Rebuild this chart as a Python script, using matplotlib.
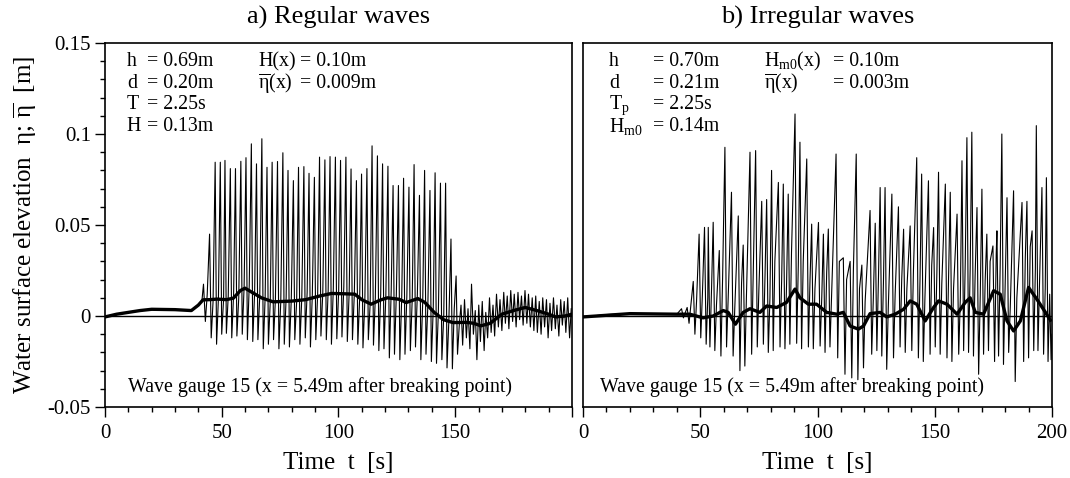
"""Water surface elevation at wave gauge 15: regular vs irregular waves."""
import numpy as np
import matplotlib
matplotlib.use("Agg")
import matplotlib.pyplot as plt
from matplotlib.ticker import MultipleLocator

plt.rcParams["font.family"] = "Liberation Serif"
plt.rcParams["mathtext.fontset"] = "custom"
plt.rcParams["mathtext.rm"] = "Liberation Serif"
plt.rcParams["mathtext.it"] = "Liberation Serif:italic"

# ---- a) regular waves: eta(t) ----
reg_pre_t = [0, 5, 10, 15, 20, 30, 37, 40, 41.5, 42.2, 43.0, 43.8, 44.8, 45.5, 46.3]
reg_pre = [-0.0005, 0.0008, 0.002, 0.003, 0.0035, 0.0035, 0.003, 0.006, 0.008,
           0.0175, -0.003, 0.012, 0.045, -0.012, 0.008]

reg_crest_t = [47.2, 49.4, 51.4, 53.7, 55.9, 58.2, 60.4, 62.7, 64.9, 67.2, 69.4, 71.6,
               73.9, 76.2, 78.4, 80.7, 82.9, 85.2, 87.4, 89.7, 91.9, 94.2, 96.4, 98.7,
               100.9, 103.2, 105.4, 107.7, 109.9, 112.2, 114.4, 116.7, 118.9, 121.2,
               123.4, 125.7, 127.9, 130.2, 132.4, 134.7, 136.9, 139.2, 141.4, 143.7,
               145.9, 148.2, 150.4]
reg_crest = [0.0845, 0.0845, 0.0855, 0.081, 0.081, 0.085, 0.087, 0.0946, 0.0836, 0.0974,
             0.0817, 0.0845, 0.0849, 0.0897, 0.080, 0.0744, 0.0817, 0.0821, 0.0784, 0.0762,
             0.0873, 0.0858, 0.0876, 0.0873, 0.0855, 0.0873, 0.0808, 0.0744, 0.078, 0.081,
             0.0935, 0.088, 0.0836, 0.0823, 0.0717, 0.0717, 0.0757, 0.0708, 0.0832, 0.0663,
             0.080, 0.069, 0.0787, 0.073, 0.073, 0.0423, 0.022]
reg_trough_t = [47.8, 50.0, 52.0, 54.3, 56.5, 58.8, 61.0, 63.3, 65.5, 67.8, 70.0, 72.2,
                74.5, 76.8, 79.0, 81.3, 83.5, 85.8, 88.0, 90.3, 92.5, 94.8, 97.0, 99.3,
                101.5, 103.8, 106.0, 108.3, 110.5, 112.8, 115.0, 117.3, 119.5, 121.8,
                124.0, 126.3, 128.5, 130.8, 133.0, 135.3, 137.5, 139.8, 142.0, 144.3,
                146.5, 148.8, 151.0]
reg_trough = [-0.0155, -0.010, -0.0095, -0.012, -0.011, -0.010, -0.013, -0.014, -0.013,
              -0.018, -0.0155, -0.013, -0.018, -0.0155, -0.017, -0.013, -0.0155, -0.012,
              -0.017, -0.013, -0.011, -0.013, -0.0155, -0.0125, -0.0115, -0.014, -0.013,
              -0.0155, -0.0175, -0.013, -0.016, -0.019, -0.018, -0.023, -0.021, -0.024,
              -0.021, -0.019, -0.017, -0.024, -0.021, -0.025, -0.026, -0.024, -0.0285,
              -0.029, -0.021]
reg_bump_t = [48.6, 50.8, 52.8, 55.1, 57.3, 59.6, 61.8, 64.1, 66.3, 68.6, 70.8, 73.0,
              75.3, 77.6, 79.8, 82.1, 84.3, 86.6, 88.8, 91.1, 93.3, 95.6, 97.8, 100.1,
              102.3, 104.6, 106.8, 109.1, 111.3, 113.6, 115.8, 118.1, 120.3, 122.6,
              124.8, 127.1, 129.3, 131.6, 133.8, 136.1, 138.3, 140.6, 142.8, 145.1,
              147.3, 149.6, 151.8]
reg_bump = [0.010, 0.009, 0.011, 0.012, 0.010, 0.016, 0.017, 0.013, 0.011, 0.010, 0.008,
            0.009, 0.008, 0.010, 0.009, 0.008, 0.010, 0.013, 0.011, 0.012, 0.013, 0.014,
            0.015, 0.014, 0.016, 0.013, 0.012, 0.010, 0.008, 0.007, 0.010, 0.012, 0.011,
            0.014, 0.012, 0.010, 0.011, 0.009, 0.012, 0.008, 0.006, 0.004, 0.002, 0.000,
            -0.002, 0.004, -0.004]
reg_post_t = [152.5, 153.2, 154.0, 154.8, 155.5, 156.3, 157.0, 157.8, 158.6, 159.3,
              160.1, 160.8, 161.6, 162.4, 163.1, 163.9, 164.7, 165.4, 166.2, 166.9,
              167.7, 168.5, 169.2, 170.0, 170.8, 171.5, 172.3, 173.0, 173.8, 174.6,
              175.3, 176.1, 176.9, 177.6, 178.4, 179.1, 179.9, 180.7, 181.4, 182.2,
              183.0, 183.7, 184.5, 185.2, 186.0, 186.8, 187.5, 188.3, 189.1, 189.8,
              190.6, 191.3, 192.1, 192.9, 193.6, 194.4, 195.2, 195.9, 196.7, 197.4,
              198.2, 199.0, 199.7]
reg_post = [0.006, -0.016, 0.009, -0.012, 0.004, -0.018, 0.0175, -0.010, 0.003, -0.024,
            0.006, -0.014, 0.008, -0.019, 0.002, -0.012, 0.010, -0.009, 0.006, -0.011,
            0.012, -0.006, 0.009, -0.008, 0.013, -0.004, 0.011, -0.007, 0.014, -0.003,
            0.012, -0.006, 0.013, -0.002, 0.011, -0.005, 0.014, -0.004, 0.012, -0.006,
            0.010, -0.008, 0.011, -0.009, 0.008, -0.010, 0.010, -0.006, 0.009, -0.012,
            0.007, -0.008, 0.010, -0.007, 0.006, -0.011, 0.009, -0.005, 0.008, -0.009,
            0.010, -0.012, 0.004]

# mean water level (thick line), regular
reg_mean_t = [0, 5, 10, 15, 20, 25, 30, 37, 40, 42, 45, 48, 52, 55, 58, 60, 63, 67, 72,
              80, 86, 92, 97, 103, 107, 110, 114, 118, 121, 126, 129, 134, 137, 141, 145,
              149, 155, 158, 161, 165, 170, 175, 180, 185, 190, 193, 197, 200]
reg_mean = [-0.0005, 0.001, 0.002, 0.003, 0.0037, 0.0036, 0.0035, 0.003, 0.006, 0.0089,
            0.009, 0.0093, 0.009, 0.0098, 0.014, 0.0153, 0.013, 0.010, 0.0078, 0.0082,
            0.009, 0.011, 0.0124, 0.0122, 0.012, 0.009, 0.0065, 0.0088, 0.010, 0.0092,
            0.0074, 0.0096, 0.0075, 0.002, -0.002, -0.0036, -0.0035, -0.004, -0.0054,
            -0.004, 0.001, 0.003, 0.0047, 0.003, 0.001, -0.0005, 0.0, 0.001]

# ---- b) irregular waves ----
irr_pre_t = [0, 10, 20, 30, 40, 42, 42.8, 44.4, 45.2, 46.0]
irr_pre = [-0.0005, 0.0008, 0.0013, 0.001, 0.001, 0.004, -0.001, 0.0047, -0.004, 0.006]

irr_crest_t = [47.0, 49.5, 51.8, 53.4, 55.5, 58.1, 60.5, 63.3, 66.2, 68.3, 71.2, 73.6,
               76.2, 78.3, 80.4, 83.3, 85.4, 87.5, 90.4, 92.5, 95.4, 97.5, 100.4, 102.5,
               104.6, 107.9, 111.0, 113.9, 116.5, 118.9, 122.4, 124.6, 126.7, 128.8,
               131.7, 134.5, 136.7, 139.5, 142.3, 144.4, 147.3, 149.5, 151.6, 154.5,
               156.6, 159.5, 161.6, 163.7, 165.8, 168.0, 170.1, 172.2, 174.8, 176.5,
               178.6, 180.8, 183.6, 187.2, 189.3, 191.5, 193.3, 195.7, 197.6]
irr_crest = [0.019, 0.045, 0.0487, 0.0487, 0.0515, 0.036, 0.0927, 0.068, 0.055, 0.039,
             0.090, 0.0909, 0.063, 0.064, 0.080, 0.0734, 0.0725, 0.067, 0.111, 0.0955,
             0.0863, 0.0505, 0.0514, 0.045, 0.0478, 0.089, 0.032, 0.030, 0.089, 0.028,
             0.058, 0.051, 0.0706, 0.0706, 0.067, 0.060, 0.0477, 0.0495, 0.087, 0.078,
             0.0743, 0.0486, 0.079, 0.0725, 0.068, 0.056, 0.0853, 0.098, 0.101, 0.0596,
             0.0697, 0.045, 0.0385, 0.0468, 0.100, 0.065, 0.0688, 0.0624, 0.063, 0.0468,
             0.1046, 0.0706, 0.076]
irr_trough_t = [47.7, 50.2, 52.5, 54.1, 56.2, 58.8, 61.2, 64.0, 66.9, 69.0, 71.9, 74.3,
                76.9, 79.0, 81.1, 84.0, 86.1, 88.2, 91.1, 93.2, 96.1, 98.2, 101.1, 103.2,
                105.3, 108.6, 111.7, 114.6, 117.2, 119.6, 123.1, 125.3, 127.4, 129.5,
                132.4, 135.2, 137.4, 140.2, 143.0, 145.1, 148.0, 150.2, 152.3, 155.2,
                157.3, 160.2, 162.3, 164.4, 166.5, 168.7, 170.8, 172.9, 175.5, 177.2,
                179.3, 181.5, 184.3, 187.9, 190.0, 192.2, 194.0, 196.4, 198.3]
irr_trough = [-0.010, -0.012, -0.0155, -0.017, -0.019, -0.022, -0.017, -0.022, -0.030,
              -0.0275, -0.021, -0.017, -0.0155, -0.020, -0.019, -0.017, -0.018, -0.0155,
              -0.015, -0.018, -0.017, -0.018, -0.0165, -0.020, -0.017, -0.023, -0.032,
              -0.034, -0.035, -0.0285, -0.021, -0.019, -0.022, -0.0293, -0.023, -0.017,
              -0.020, -0.019, -0.023, -0.025, -0.021, -0.017, -0.021, -0.023, -0.025,
              -0.021, -0.019, -0.020, -0.022, -0.032, -0.021, -0.019, -0.025, -0.022,
              -0.0266, -0.020, -0.036, -0.025, -0.023, -0.019, -0.019, -0.021, -0.025]
irr_bump_t = [48.4, 50.9, 53.2, 54.8, 56.9, 59.5, 61.9, 64.7, 67.6, 69.7, 72.6, 75.0,
              77.6, 79.7, 81.8, 84.7, 86.8, 88.9, 91.8, 93.9, 96.8, 98.9, 101.8, 103.9,
              106.0, 109.3, 112.4, 115.3, 117.9, 120.3, 123.8, 126.0, 128.1, 130.2,
              133.1, 135.9, 138.1, 140.9, 143.7, 145.8, 148.7, 150.9, 153.0, 155.9,
              158.0, 160.9, 163.0, 165.1, 167.2, 169.4, 171.5, 173.6, 176.2, 177.9,
              180.0, 182.2, 185.0, 188.6, 190.7, 192.9, 194.7, 197.1, 199.0]
irr_bump = [0.008, 0.012, 0.010, 0.015, 0.006, 0.020, 0.010, 0.004, 0.018, 0.012, 0.025,
            0.015, 0.022, 0.010, 0.030, 0.020, 0.018, 0.035, 0.028, 0.030, 0.020, 0.015,
            0.010, 0.024, 0.012, 0.030, 0.020, 0.026, 0.015, 0.008, 0.010, 0.022, 0.018,
            0.006, 0.012, 0.020, 0.015, 0.025, 0.020, 0.010, 0.028, 0.024, 0.018, 0.022,
            0.015, 0.010, 0.030, 0.026, 0.022, 0.012, 0.020, 0.030, 0.034, 0.028, 0.015,
            0.005, 0.010, 0.032, 0.038, 0.026, 0.020, 0.015, 0.012]
irr_post_t = [199.6, 200.0]
irr_post = [-0.024, -0.010]

irr_mean_t = [0, 20, 40, 45.5, 51.2, 55.5, 59.8, 61.9, 65, 68.3, 71.2, 75.4, 78.3, 82.6,
              86.8, 90.4, 92.5, 96.1, 99.6, 103.9, 108.2, 111, 113.9, 117.4, 119.6, 122.4,
              126.7, 129.5, 133.1, 136.7, 139.5, 142.3, 145.9, 149.5, 151.6, 155.2,
              159.5, 163, 165.1, 167.3, 170.8, 175.1, 177.9, 180.8, 183.6, 186.5, 190,
              193.5, 197.2, 199.3]
irr_mean = [-0.0005, 0.0013, 0.001, 0.001, -0.001, 0.0, 0.003, 0.002, -0.0045, 0.002,
            0.004, 0.002, 0.0055, 0.0047, 0.0075, 0.0148, 0.010, 0.0065, 0.0065, 0.002,
            0.001, 0.002, -0.0055, -0.0072, -0.0055, 0.0013, 0.002, -0.0005, 0.001,
            0.0037, 0.0083, 0.0065, -0.0027, 0.0047, 0.0083, 0.0065, 0.001, 0.0075,
            0.010, 0.002, 0.001, 0.0139, 0.012, -0.0027, -0.0082, -0.0027, 0.0157, 0.0093,
            0.002, -0.0023]

ann_reg_left = ["h", "d", "T", "H"]
ann_reg_val = ["= 0.69m", "= 0.20m", "= 2.25s", "= 0.13m"]
ann_reg_left2 = ["H(x)", r"$\overline{\mathrm{\eta}}$(x)"]
ann_reg_val2 = ["= 0.10m", "= 0.009m"]
ann_irr_left = ["h", "d", r"T$_\mathrm{p}$", r"H$_\mathrm{m0}$"]
ann_irr_val = ["= 0.70m", "= 0.21m", "= 2.25s", "= 0.14m"]
ann_irr_left2 = [r"H$_\mathrm{m0}$(x)", r"$\overline{\mathrm{\eta}}$(x)"]
ann_irr_val2 = ["= 0.10m", "= 0.003m"]
gauge_text = "Wave gauge 15 (x = 5.49m after breaking point)"


def build(*pairs):
    t = np.concatenate([np.asarray(a, float) for a, _ in pairs])
    v = np.concatenate([np.asarray(b, float) for _, b in pairs])
    order = np.argsort(t, kind="stable")
    return t[order], v[order]


reg_t, reg_eta = build((reg_pre_t, reg_pre), (reg_crest_t, reg_crest),
                       (reg_trough_t, reg_trough), (reg_bump_t, reg_bump),
                       (reg_post_t, reg_post))
irr_t, irr_eta = build((irr_pre_t, irr_pre), (irr_crest_t, irr_crest),
                       (irr_trough_t, irr_trough), (irr_bump_t, irr_bump),
                       (irr_post_t, irr_post))

fig = plt.figure(figsize=(10.7, 4.78), dpi=100)
ax1 = fig.add_axes([0.0981, 0.1485, 0.4364, 0.7615])
ax2 = fig.add_axes([0.5449, 0.1485, 0.4383, 0.7615])

ROW_Y = [0.948, 0.889, 0.830, 0.770]
FS_ANN = 14.3


def style_axes(ax, show_y):
    ax.set_xlim(0, 200)
    ax.set_ylim(-0.05, 0.15)
    ax.axhline(0, color="black", lw=1.0, zorder=1)
    ax.xaxis.set_major_locator(MultipleLocator(50))
    ax.xaxis.set_minor_locator(MultipleLocator(10))
    ax.tick_params(axis="x", which="major", direction="out", length=7, width=1.0,
                   labelsize=15, top=False, pad=5)
    ax.tick_params(axis="x", which="minor", direction="out", length=3.5, width=1.0, top=False)
    for sp in ax.spines.values():
        sp.set_linewidth(1.2)
    if show_y:
        ax.set_yticks([-0.05, 0, 0.05, 0.1, 0.15])
        ax.set_yticklabels(["-0.05", "0", "0.05", "0.1", "0.15"])
        ax.yaxis.set_minor_locator(MultipleLocator(0.01))
        ax.tick_params(axis="y", which="major", direction="out", length=7, width=1.0,
                       labelsize=15, right=False, pad=3)
        ax.tick_params(axis="y", which="minor", direction="out", length=3.5, width=1.0,
                       right=False)
    else:
        ax.set_yticks([])
        ax.tick_params(axis="y", which="both", left=False, right=False, labelleft=False)
    ax.set_xlabel("Time  t  [s]", fontsize=18, labelpad=7)


# a) regular
ax1.plot(reg_t, reg_eta, color="black", lw=0.8, zorder=2)
ax1.plot(reg_mean_t, reg_mean, color="black", lw=2.4, zorder=3, solid_joinstyle="round")
style_axes(ax1, True)
ax1.set_xticks([0, 50, 100, 150, 200])
ax1.set_xticklabels(["0", "50", "100", "150", ""])
ax1.set_ylabel(r"Water surface elevation  $\mathrm{\eta}$; $\overline{\mathrm{\eta}}$  [m]",
               fontsize=18, labelpad=6)
ax1.set_title("a) Regular waves", fontsize=19, pad=14)
for y, a, b in zip(ROW_Y, ann_reg_left, ann_reg_val):
    ax1.text(0.047, y, a, transform=ax1.transAxes, fontsize=FS_ANN, va="center")
    ax1.text(0.090, y, b, transform=ax1.transAxes, fontsize=FS_ANN, va="center")
for y, a, b in zip(ROW_Y, ann_reg_left2, ann_reg_val2):
    ax1.text(0.328, y, a, transform=ax1.transAxes, fontsize=FS_ANN, va="center")
    ax1.text(0.418, y, b, transform=ax1.transAxes, fontsize=FS_ANN, va="center")
ax1.text(0.049, 0.055, gauge_text, transform=ax1.transAxes, fontsize=FS_ANN, va="center")

# b) irregular
ax2.plot(irr_t, irr_eta, color="black", lw=0.8, zorder=2)
ax2.plot(irr_mean_t, irr_mean, color="black", lw=2.4, zorder=3, solid_joinstyle="round")
style_axes(ax2, False)
ax2.set_title("b) Irregular waves", fontsize=19, pad=14)
for y, a, b in zip(ROW_Y, ann_irr_left, ann_irr_val):
    ax2.text(0.055, y, a, transform=ax2.transAxes, fontsize=FS_ANN, va="center")
    ax2.text(0.149, y, b, transform=ax2.transAxes, fontsize=FS_ANN, va="center")
for y, a, b in zip(ROW_Y, ann_irr_left2, ann_irr_val2):
    ax2.text(0.386, y, a, transform=ax2.transAxes, fontsize=FS_ANN, va="center")
    ax2.text(0.533, y, b, transform=ax2.transAxes, fontsize=FS_ANN, va="center")
ax2.text(0.036, 0.055, gauge_text, transform=ax2.transAxes, fontsize=FS_ANN, va="center")

fig.savefig("out.png", dpi=100)
